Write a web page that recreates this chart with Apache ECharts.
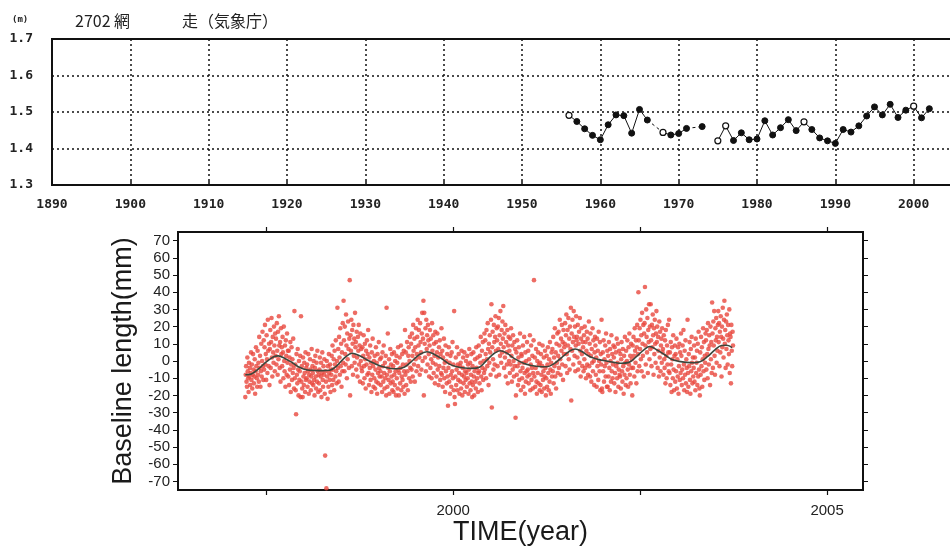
<!DOCTYPE html>
<html>
<head>
<meta charset="utf-8">
<script src="https://cdn.jsdelivr.net/npm/echarts@6/dist/echarts.min.js"></script>
<style>
html, body { margin: 0; padding: 0; background: #ffffff; }
#chart { width: 950px; height: 553px; }
</style>
</head>
<body>
<div id="chart"></div>
<script>
// ---- Annual mean sea level at Abashiri (m) ----
const seaYears = [1956, 1957, 1958, 1959, 1960, 1961, 1962, 1963, 1964, 1965, 1966, 1967, 1968, 1969, 1970,
  1971, 1972, 1973, 1974, 1975, 1976, 1977, 1978, 1979, 1980, 1981, 1982, 1983, 1984, 1985, 1986, 1987,
  1988, 1989, 1990, 1991, 1992, 1993, 1994, 1995, 1996, 1997, 1998, 1999, 2000, 2001, 2002];
const seaLevel = [1.491, 1.474, 1.454, 1.436, 1.424, 1.465, 1.492, 1.490, 1.442, 1.507, 1.478, null, 1.444, 1.437, 1.441,
  1.455, null, 1.460, null, 1.421, 1.462, 1.422, 1.443, 1.424, 1.426, 1.476, 1.437, 1.457, 1.479, 1.449, 1.473, 1.452,
  1.429, 1.421, 1.414, 1.452, 1.445, 1.462, 1.489, 1.514, 1.492, 1.521, 1.485, 1.505, 1.516, 1.484, 1.509];
// years with incomplete records (open markers)
const openYears = [1956, 1968, 1975, 1976, 1986, 2000];
// missing years bridged by a dashed segment
const bridgedYears = [1967, 1972];
const seaYearTicks = [1890, 2010, 10];
const seaLevelTicks = [1.3, 1.7, 0.1];

// ---- GPS baseline length residuals (mm), one value every 2 days ----
const baselineStart = 1997.22;
const baselineStepDays = 2;
const baselineValues = [
  -21,-8,-3,-12,-15,2,-6,-10,-18,-1,-9,-4,-14,-7,5,
  -11,-2,-16,-8,4,-5,-13,-9,1,-19,-6,8,-3,-10,-15,
  6,-8,-1,-12,14,-4,3,-15,-6,10,-9,0,17,-3,-11,
  12,-5,8,21,-2,4,-11,15,1,-7,24,6,-3,10,-14,
  7,18,-4,11,25,2,-9,14,5,-1,20,9,-6,16,3,
  13,-2,22,6,-8,17,1,26,9,-4,11,-12,19,4,8,
  -3,14,5,-10,20,0,-6,9,-15,12,3,-8,16,-1,6,
  -9,6,-14,2,-5,11,-18,-2,8,-11,1,-7,13,-4,-16,
  29,-10,-2,-17,-31,4,-8,-13,7,-5,-20,0,-11,-6,3,
  -21,26,-12,-3,-16,-21,2,-9,-14,-1,-7,-18,5,-11,-4,
  -10,-2,-15,-6,4,-19,-8,-12,1,-5,-17,-9,7,-13,-3,
  -7,-14,0,-11,-20,-4,3,-9,-16,-1,-12,6,-6,-18,-8,
  -13,-5,2,-17,-9,-1,-21,-7,5,-11,-15,-3,-8,1,-19,
  -55,-6,-12,-74,0,-9,-22,-3,-15,4,-7,-11,-2,-18,-5,
  -8,3,-14,9,-5,-11,1,-17,6,-2,-9,12,-6,-13,0,
  31,-4,7,-12,14,2,-8,19,-3,10,-15,5,-6,22,-1,
  35,12,-6,20,4,-2,27,9,-10,16,1,23,7,-4,13,
  47,-20,15,6,24,-3,18,10,-8,21,3,13,-1,28,8,
  11,-5,17,2,-9,14,6,21,-2,9,-12,16,0,7,-4,
  -6,8,-13,3,15,-3,-10,10,1,-16,6,-2,12,-8,4,
  18,-7,-14,2,-4,9,-11,-1,-18,5,-8,13,-3,-15,0,
  -10,3,-16,-5,8,-12,-1,-19,4,-7,-13,11,-4,-9,1,
  -6,-14,2,-9,-18,5,-3,-12,9,-7,-16,-1,-10,3,-20,
  31,-8,-15,16,-4,-11,1,-19,-6,7,-13,-2,-9,4,-17,
  -12,-3,-18,5,-8,-14,0,-6,-20,3,-10,-1,-16,8,-5,
  -20,-7,2,-13,-4,9,-17,-9,4,-11,-2,-15,6,-6,-19,
  18,-8,5,-14,-2,11,-6,-17,3,8,-10,0,14,-4,-12,
  10,-5,16,3,-9,21,6,-2,13,-12,8,1,19,-6,4,
  14,24,-3,9,18,2,-8,22,11,5,-5,16,28,0,13,
  35,-20,28,10,2,19,-6,24,7,15,-2,21,12,4,-9,
  9,18,-4,13,1,-10,22,6,-1,15,-7,10,3,-13,17,
  -2,11,-9,5,16,-5,2,-14,8,-3,12,-11,4,-7,19,
  -8,6,-15,2,-4,13,-10,-1,-18,9,-6,0,-13,4,-9,
  -26,-4,8,-12,-1,-19,3,-8,-15,5,-6,11,-10,-2,-17,
  29,-21,-25,-9,2,-14,-5,8,-17,-2,-11,4,-7,-19,-3,
  -12,-1,-16,6,-8,-20,-4,2,-13,-9,5,-18,-6,-11,0,
  -7,-15,3,-10,-2,-19,-5,7,-13,-1,-17,-8,4,-12,-21,
  -3,-14,5,-9,-20,-6,1,-12,-16,8,-4,-10,2,-18,-7,
  9,-6,-13,3,-1,14,-9,-17,6,-4,11,-11,0,-7,16,
  -5,12,4,-10,18,1,-3,22,7,-14,10,-1,15,5,-8,
  24,33,-27,8,17,1,-5,21,11,-2,14,26,6,-9,19,
  12,-3,20,7,25,-8,15,3,29,10,-1,18,5,23,13,
  32,8,-4,16,2,21,-9,11,5,-2,18,-13,9,14,0,
  6,-7,13,-2,19,3,-12,9,-5,15,0,-9,11,-3,7,
  -33,-20,5,-8,12,-3,-14,2,8,-11,-1,16,-6,-17,4,
  3,-10,-4,9,-15,-1,14,-7,-19,5,-12,0,-6,11,-9,
  -5,6,-13,1,-8,15,-17,-2,9,-11,-4,3,-16,-7,12,
  47,-9,2,-15,-4,7,-12,-19,0,-7,5,-13,-2,10,-17,
  -1,-14,4,-8,-18,-3,9,-11,-6,2,-16,-9,6,-4,-20,
  -10,3,-15,-2,8,-7,-17,1,-12,11,-5,-19,-1,5,-9,
  7,-6,14,-13,2,-3,19,-9,5,-16,10,-1,16,-7,3,
  17,-4,9,24,1,-8,13,6,21,-2,11,-11,18,4,8,
  10,22,-3,15,27,4,-7,18,9,25,1,13,-5,20,7,
  31,-23,16,6,24,11,-2,29,14,3,20,-6,9,26,12,
  14,2,21,-5,10,17,-1,25,6,-9,13,19,4,-3,11,
  8,-6,15,1,20,-4,11,-10,6,17,-2,13,-8,4,23,
  -3,10,-9,16,3,-12,7,-1,19,-6,12,0,-14,5,14,
  9,-8,2,-15,13,-3,6,-11,17,0,-6,11,-17,4,-2,
  24,-16,-18,5,-6,12,-12,1,-3,9,-9,16,-1,-15,6,
  -15,3,-9,11,-4,-17,7,0,-12,15,-6,4,-10,-2,9,
  2,-13,8,-7,-18,5,-3,13,-10,-1,10,-15,-5,6,-8,
  -9,4,-16,1,11,-6,-12,7,-3,-19,3,-8,14,-1,-14,
  6,-10,0,12,-5,-15,8,-2,16,-8,3,-13,10,-4,1,
  -20,9,-4,14,3,-9,19,6,-1,12,-13,8,21,-6,4,
  40,12,-3,19,7,24,1,15,-6,28,10,3,21,-9,16,
  22,43,9,-2,30,14,5,25,-7,18,11,33,1,20,7,
  33,12,-3,21,8,27,15,-8,19,4,24,10,-1,16,29,
  11,20,-4,14,6,-9,23,2,17,-6,9,13,-1,19,5,
  7,-8,15,1,-4,12,-13,18,3,-10,9,-2,21,5,-6,
  24,-7,5,-14,11,-2,-18,8,1,-10,15,-5,-17,3,9,
  -12,4,-6,13,-16,1,-9,8,-19,-3,10,-11,5,-7,16,
  3,-14,-5,9,-10,18,-2,-17,6,-8,12,-13,1,-4,-18,
  24,-7,-15,4,-3,11,-11,-19,7,-6,14,-1,-13,2,-9,
  -4,9,-12,2,-17,13,-7,-1,6,-14,10,-9,17,-5,-16,
  -20,5,-8,14,-3,8,-15,1,19,-6,11,-11,3,-1,16,
  12,-5,18,4,-10,22,7,-2,15,9,-14,20,1,11,-7,
  34,16,-4,23,9,29,3,-8,19,12,25,-1,14,6,21,
  29,11,22,-3,17,5,26,14,-9,20,8,31,13,2,24,
  35,10,18,-4,23,7,27,15,-2,21,12,4,30,-7,16,
  14,-13,21,6,-3,17,9
];

// ---- Seasonal fit to the baseline series (mm) ----
const fitYears = [1997.22, 1997.30, 1997.40, 1997.50, 1997.60, 1997.66, 1997.75, 1997.85, 1997.95,
  1998.05, 1998.15, 1998.25, 1998.35, 1998.45, 1998.55, 1998.65, 1998.75, 1998.85, 1998.95,
  1999.05, 1999.15, 1999.25, 1999.35, 1999.45, 1999.55, 1999.65, 1999.75, 1999.85, 1999.95,
  2000.05, 2000.15, 2000.25, 2000.35, 2000.45, 2000.55, 2000.63, 2000.72, 2000.82, 2000.95,
  2001.05, 2001.15, 2001.25, 2001.35, 2001.45, 2001.55, 2001.63, 2001.72, 2001.83, 2001.95,
  2002.05, 2002.15, 2002.25, 2002.35, 2002.45, 2002.55, 2002.63, 2002.72, 2002.82, 2002.92,
  2003.02, 2003.12, 2003.22, 2003.30, 2003.40, 2003.50, 2003.59, 2003.66, 2003.73];
const fitValues = [-8, -7.5, -4.5, -0.5, 2.5, 3, 1.5, -1, -3.8,
  -5.2, -5.5, -5.6, -5.4, -2.5, 2, 4.5, 3, 0.6, -1.5,
  -3.2, -4.2, -4.5, -3.5, 0, 3.8, 5.4, 3.8, 1.2, -1.8,
  -3.3, -4.1, -4.3, -3.6, 0.5, 4.5, 6, 4.5, 1.4, -1.5,
  -2.6, -3.2, -3.3, -1.5, 2, 5.5, 7, 5.5, 2.5, 0.8,
  0, -0.8, -1.3, -0.8, 2.5, 6.5, 8.4, 6.5, 3.9, 1,
  -0.2, -0.8, -1.0, -0.5, 2.5, 6.5, 9, 9.2, 7.8];

const timeRange = [1996.32, 2005.48];
const timeTicks = [1997.5, 2000, 2002.5, 2005];
const timeLabels = [2000, 2005];
const baselineRange = [-75, 75];
const baselineTicks = [-70, -60, -50, -40, -30, -20, -10, 0, 10, 20, 30, 40, 50, 60, 70];

// ---------------------------------------------------------------------------
const ink = '#111111';
const monoFont = '"DejaVu Sans Mono", monospace';
const sansFont = '"Liberation Sans", Arial, sans-serif';
const plain = v => String(v);

const seaData = seaYears.map((y, i) => {
  const v = seaLevel[i];
  if (v === null) return [y, '-'];
  const item = { value: [y, v] };
  if (openYears.includes(y)) {
    item.itemStyle = { color: '#ffffff', borderColor: ink, borderWidth: 1.2 };
  }
  return item;
});
const bridgeSeries = bridgedYears.map(y => {
  const a = seaYears.indexOf(y - 1), b = seaYears.indexOf(y + 1);
  return {
    type: 'line', xAxisIndex: 0, yAxisIndex: 0, z: 2,
    data: [[seaYears[a], seaLevel[a]], [seaYears[b], seaLevel[b]]],
    showSymbol: false, silent: true,
    lineStyle: { color: ink, width: 1, type: [3, 3] }
  };
});

const baselineData = baselineValues.map((v, i) =>
  [baselineStart + i * baselineStepDays / 365.25, v]);
const fitData = fitYears.map((t, i) => [t, fitValues[i]]);

const chart = echarts.init(document.getElementById('chart'), null, { renderer: 'canvas' });
chart.setOption({
  backgroundColor: '#ffffff',
  animation: false,
  graphic: [
    { type: 'text', left: 12, top: 15, style: { text: '(m)', font: 'bold 9px ' + monoFont, fill: '#222' } },
    { type: 'text', left: 75, top: 13, style: { text: '2702 網', font: '16px "Noto Sans CJK JP", sans-serif', fill: '#222' } },
    { type: 'text', left: 182, top: 13, style: { text: '走（気象庁）', font: '16px "Noto Sans CJK JP", sans-serif', fill: '#222' } }
  ],
  grid: [
    { left: 52, top: 39, right: -42, height: 146, outerBoundsMode: 'none', containLabel: false,
      show: true, borderColor: ink, borderWidth: 2, backgroundColor: 'transparent' },
    { left: 178, top: 232, right: 87, bottom: 63, outerBoundsMode: 'none', containLabel: false,
      show: true, borderColor: ink, borderWidth: 2, backgroundColor: 'transparent' }
  ],
  xAxis: [
    {
      type: 'value', gridIndex: 0, min: seaYearTicks[0], max: seaYearTicks[1], interval: seaYearTicks[2],
      axisLine: { show: false, onZero: false },
      axisTick: { inside: true, length: 4, lineStyle: { color: ink, width: 1.5 } },
      axisLabel: { margin: 13, fontFamily: monoFont, fontWeight: 'bold', fontSize: 13, color: '#222', formatter: plain },
      splitLine: { show: true, lineStyle: { color: ink, width: 1.5, type: [2, 3] } }
    },
    {
      type: 'value', gridIndex: 1, position: 'bottom', min: timeRange[0], max: timeRange[1],
      axisLine: { show: false, onZero: false },
      axisTick: { show: true, length: 5, customValues: timeTicks, lineStyle: { color: ink, width: 1.2 } },
      axisLabel: { customValues: timeLabels, margin: 13, fontFamily: sansFont, fontSize: 15, color: '#222', formatter: plain },
      splitLine: { show: false },
      name: 'TIME(year)', nameLocation: 'middle', nameGap: 28,
      nameTextStyle: { fontFamily: sansFont, fontSize: 27, color: '#1a1a1a' }
    },
    {
      type: 'value', gridIndex: 1, position: 'top', min: timeRange[0], max: timeRange[1],
      axisLine: { show: false, onZero: false },
      axisTick: { show: true, length: 5, customValues: timeTicks, lineStyle: { color: ink, width: 1.2 } },
      axisLabel: { show: false },
      splitLine: { show: false }
    }
  ],
  yAxis: [
    {
      type: 'value', gridIndex: 0, min: seaLevelTicks[0], max: seaLevelTicks[1], interval: seaLevelTicks[2],
      axisLine: { show: false, onZero: false },
      axisTick: { show: false },
      axisLabel: { margin: 19, fontFamily: monoFont, fontWeight: 'bold', fontSize: 13, color: '#222',
        formatter: v => v.toFixed(1) },
      splitLine: { show: true, lineStyle: { color: ink, width: 1.5, type: [2, 3] } }
    },
    {
      type: 'value', gridIndex: 1, position: 'left', min: baselineRange[0], max: baselineRange[1],
      axisLine: { show: false, onZero: false },
      axisTick: { show: true, length: 5, customValues: baselineTicks, lineStyle: { color: ink, width: 1 } },
      axisLabel: { customValues: baselineTicks, margin: 8, fontFamily: sansFont, fontSize: 15, color: '#222' },
      splitLine: { show: false },
      name: 'Baseline length(mm)', nameLocation: 'middle', nameGap: 41,
      nameTextStyle: { fontFamily: sansFont, fontSize: 27, color: '#1a1a1a' }
    },
    {
      type: 'value', gridIndex: 1, position: 'right', min: baselineRange[0], max: baselineRange[1],
      axisLine: { show: false, onZero: false },
      axisTick: { show: true, length: 5, customValues: baselineTicks, lineStyle: { color: ink, width: 1 } },
      axisLabel: { show: false },
      splitLine: { show: false }
    }
  ],
  series: [
    {
      type: 'line', xAxisIndex: 0, yAxisIndex: 0, z: 3,
      data: seaData, connectNulls: false,
      symbol: 'circle', symbolSize: 6, showAllSymbol: true,
      itemStyle: { color: ink, borderColor: ink, borderWidth: 1 },
      lineStyle: { color: ink, width: 1 }
    },
    ...bridgeSeries,
    {
      type: 'scatter', xAxisIndex: 1, yAxisIndex: 1, z: 2,
      data: baselineData, symbol: 'circle', symbolSize: 4.6,
      itemStyle: { color: '#e9473d', opacity: 0.8 }
    },
    {
      type: 'line', xAxisIndex: 1, yAxisIndex: 1, z: 3,
      data: fitData, smooth: 0.4, showSymbol: false,
      lineStyle: { color: '#3a463c', width: 1.6 }
    }
  ]
});
</script>
</body>
</html>
